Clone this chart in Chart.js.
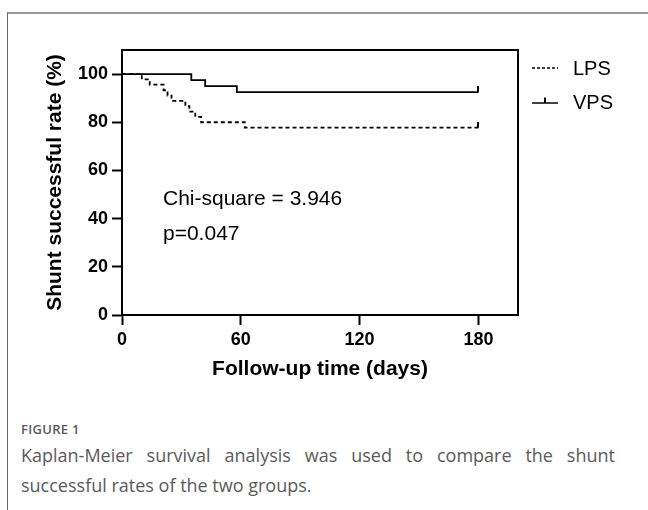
<!DOCTYPE html>
<html>
<head>
<meta charset="utf-8">
<script src="https://cdn.jsdelivr.net/npm/chart.js@4.4.0/dist/chart.umd.min.js"></script>
<style>
  body { margin: 0; background: #fff; width: 648px; height: 510px; overflow: hidden; position: relative; }
  #frame { position: absolute; left: 7px; top: 12px; right: 0; bottom: 0; border-top: 2px solid #9a9a9a; border-left: 1px solid #666; }
  #wrap { position: absolute; left: 0; top: 0; width: 648px; height: 400px; }
  #caption { position: absolute; left: 21px; top: 420px; width: 594px; font-family: "Open Sans", sans-serif; color: #5a5a5a; }
  #caption .fig { font-size: 13px; font-weight: 600; letter-spacing: 0.3px; line-height: 18px; }
  #caption .txt { font-size: 18px; line-height: 30px; text-align: justify; margin-top: 2px; }
</style>
</head>
<body>
<div id="frame"></div>
<div id="wrap"><canvas id="myChart"></canvas></div>
<div id="caption">
  <div class="fig">FIGURE 1</div>
  <div class="txt">Kaplan-Meier survival analysis was used to compare the shunt successful rates of the two groups.</div>
</div>
<script>
// survival curves (days, %)
let lpsDays = [0, 10, 14, 21, 23, 25, 32, 34, 37, 40, 62, 180];
let lpsRate = [100, 97.8, 95.6, 93.3, 91.1, 88.9, 86.7, 84.4, 82.2, 80.0, 77.8, 77.8];
let vpsDays = [0, 35, 42, 58, 180];
let vpsRate = [100, 97.5, 95.0, 92.5, 92.5];

let xTicks = [0, 60, 120, 180];
let yTicks = [0, 20, 40, 60, 80, 100];
let seriesNames = ["LPS", "VPS"];
let statLines = ["Chi-square = 3.946", "p=0.047"];

let fontFam = 'Arial, "Liberation Sans", Helvetica, sans-serif';

// small upward tick used as censor mark at the end of each curve
makeCensor = () => {
  let c = document.createElement("canvas");
  c.width = 2;
  c.height = 12;
  let g = c.getContext("2d");
  g.fillStyle = "#000";
  g.fillRect(0, 0, 2, 6);
  return c;
}
let censor = makeCensor();

toPoints = (xs, ys) => xs.map((x, i) => ({ x: x, y: ys[i] }));
endOnly = (arr, v) => arr.map((d, i) => (i === arr.length - 1 ? v : 0));

let framePlugin = {
  id: "frame",
  afterDatasetsDraw(chart) {
    let { ctx, chartArea: a } = chart;
    ctx.save();
    ctx.strokeStyle = "#000";
    ctx.lineWidth = 2;
    ctx.strokeRect(a.left, a.top, a.right - a.left, a.bottom - a.top);
    ctx.restore();
  }
};

let textPlugin = {
  id: "stats",
  afterDraw(chart) {
    let { ctx, chartArea: a } = chart;
    ctx.save();
    // stats text
    ctx.fillStyle = "#000";
    ctx.font = "21px " + fontFam;
    ctx.textBaseline = "alphabetic";
    ctx.textAlign = "left";
    ctx.fillText(statLines[0], a.left + 41, a.top + 155);
    ctx.fillText(statLines[1], a.left + 41, a.top + 190);

    // legend
    let lx = a.right + 14;
    let ly = [a.top + 18, a.top + 53];
    ctx.strokeStyle = "#000";
    ctx.lineWidth = 1.5;
    ctx.setLineDash([3, 2]);
    ctx.beginPath();
    ctx.moveTo(lx, ly[0]);
    ctx.lineTo(lx + 26, ly[0]);
    ctx.stroke();
    ctx.setLineDash([]);
    ctx.beginPath();
    ctx.moveTo(lx, ly[1]);
    ctx.lineTo(lx + 26, ly[1]);
    ctx.stroke();
    ctx.fillRect(lx + 12, ly[1] - 5.5, 2, 5.5);

    ctx.font = "20px " + fontFam;
    ctx.textBaseline = "middle";
    ctx.fillText(seriesNames[0], lx + 41, ly[0] + 1);
    ctx.fillText(seriesNames[1], lx + 41, ly[1]);
    ctx.restore();
  }
};

let tickFont = { family: fontFam, size: 18, weight: "bold" };
let titleFont = { family: fontFam, size: 21, weight: "bold" };

let ctx = document.getElementById("myChart");

let myChart = new Chart(ctx, {
  type: "line",
  data: {
    datasets: [
      {
        label: seriesNames[0],
        data: toPoints(lpsDays, lpsRate),
        borderColor: "#000",
        borderWidth: 1.8,
        borderDash: [4, 3],
        stepped: "before",
        fill: false,
        pointRadius: endOnly(lpsDays, 3),
        pointStyle: censor,
        pointHoverRadius: 0
      },
      {
        label: seriesNames[1],
        data: toPoints(vpsDays, vpsRate),
        borderColor: "#000",
        borderWidth: 1.8,
        stepped: "before",
        fill: false,
        pointRadius: endOnly(vpsDays, 3),
        pointStyle: censor,
        pointHoverRadius: 0
      }
    ]
  },
  options: {
    responsive: true,
    maintainAspectRatio: false,
    animation: false,
    events: [],
    layout: { padding: { left: 0, right: 130, top: 50, bottom: 0 } },
    plugins: {
      legend: { display: false },
      tooltip: { enabled: false }
    },
    scales: {
      x: {
        type: "linear",
        min: 0,
        max: 200,
        afterBuildTicks: (s) => { s.ticks = xTicks.map(v => ({ value: v })); },
        afterFit: (s) => { s.height = 85; },
        border: { display: true, color: "#000", width: 2 },
        grid: { drawOnChartArea: false, drawTicks: true, tickLength: 10, tickWidth: 2, tickColor: "#000" },
        ticks: { color: "#000", font: tickFont, padding: 4, maxRotation: 0 },
        title: { display: true, text: "Follow-up time (days)", color: "#000", font: titleFont, padding: { top: 0, bottom: 18 } }
      },
      y: {
        min: 0,
        max: 110,
        afterBuildTicks: (s) => { s.ticks = yTicks.map(v => ({ value: v })); },
        afterFit: (s) => { s.width = 122; },
        border: { display: true, color: "#000", width: 2 },
        grid: { drawOnChartArea: false, drawTicks: true, tickLength: 10, tickWidth: 2, tickColor: "#000" },
        ticks: { color: "#000", font: tickFont, padding: 4 },
        title: { display: true, text: "Shunt successful rate (%)", color: "#000", font: titleFont, padding: { top: 43, bottom: 0 } }
      }
    }
  },
  plugins: [framePlugin, textPlugin]
});
</script>
</body>
</html>
